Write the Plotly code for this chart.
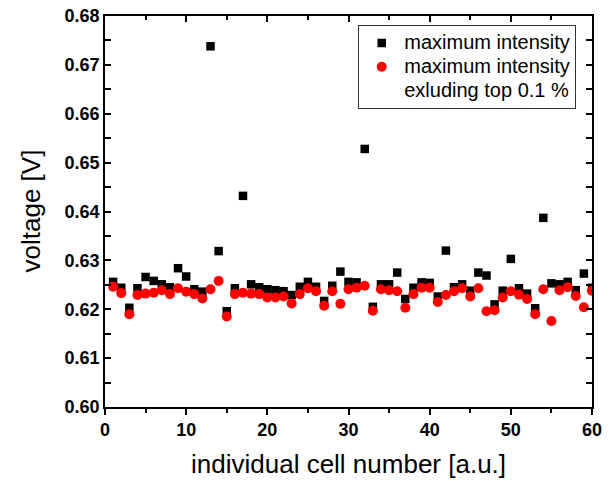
import plotly.graph_objects as go

cells = list(range(1, 61))
max_intensity = [0.6256, 0.6244, 0.6203, 0.6243, 0.6266, 0.6258, 0.6251, 0.6245, 0.6284, 0.6267,
                 0.6241, 0.6236, 0.6738, 0.6319, 0.6196, 0.6243, 0.6432, 0.6251, 0.6245, 0.6241,
                 0.6239, 0.6237, 0.6229, 0.6246, 0.6256, 0.6246, 0.6217, 0.6248, 0.6277, 0.6256,
                 0.6255, 0.6528, 0.6205, 0.6251, 0.6251, 0.6275, 0.6221, 0.6244, 0.6255, 0.6254,
                 0.6226, 0.6320, 0.6245, 0.6251, 0.6238, 0.6275, 0.6269, 0.6210, 0.6238, 0.6303,
                 0.6243, 0.6232, 0.6202, 0.6387, 0.6253, 0.6251, 0.6256, 0.6239, 0.6273, 0.6244]
max_excl_top = [0.6246, 0.6233, 0.6190, 0.6229, 0.6232, 0.6234, 0.6239, 0.6231, 0.6243, 0.6236,
                0.6231, 0.6222, 0.6241, 0.6258, 0.6185, 0.6231, 0.6234, 0.6232, 0.6231, 0.6224,
                0.6224, 0.6226, 0.6212, 0.6231, 0.6243, 0.6237, 0.6207, 0.6237, 0.6211, 0.6241,
                0.6244, 0.6248, 0.6197, 0.6241, 0.6239, 0.6237, 0.6203, 0.6231, 0.6244, 0.6244,
                0.6215, 0.6229, 0.6237, 0.6243, 0.6226, 0.6243, 0.6196, 0.6198, 0.6224, 0.6237,
                0.6230, 0.6221, 0.6190, 0.6241, 0.6176, 0.6239, 0.6245, 0.6227, 0.6204, 0.6238]

legend_names = ["maximum intensity", "maximum intensity", "exluding top 0.1 %"]
x_ticks = [0, 10, 20, 30, 40, 50, 60]
y_ticks = [0.60, 0.61, 0.62, 0.63, 0.64, 0.65, 0.66, 0.67, 0.68]
y_ticklabels = ["%.2f" % v for v in y_ticks]

FONT = "Liberation Sans, Arial, sans-serif"


def big(s):
    return '<span style="font-size:20px">%s</span>' % s


fig = go.Figure()
fig.add_trace(go.Scatter(x=cells, y=max_intensity, mode="markers", name=big(legend_names[0]),
                         marker=dict(symbol="square", size=8.5, color="black")))
fig.add_trace(go.Scatter(x=cells, y=max_excl_top, mode="markers", name=big(legend_names[1]),
                         marker=dict(symbol="circle", size=10, color="#ff0000")))
fig.add_trace(go.Scatter(x=[None], y=[None], mode="markers", name=big(legend_names[2]),
                         marker=dict(size=10, color="rgba(0,0,0,0)")))
# helper trace so the top (inward-ticked) axis is drawn
fig.add_trace(go.Scatter(x=[None], y=[None], xaxis="x2", mode="markers",
                         showlegend=False, hoverinfo="skip"))

fig.update_layout(
    width=615, height=481,
    margin=dict(l=105, r=23, t=16, b=74),
    plot_bgcolor="white", paper_bgcolor="white",
    font=dict(family=FONT, color="black"),
    showlegend=True,
    legend=dict(x=0.52, y=0.977, xanchor="left", yanchor="top",
                bordercolor="#333", borderwidth=1, bgcolor="white",
                font=dict(size=16, family=FONT), tracegroupgap=0,
                itemsizing="trace", itemwidth=35),
    annotations=[
        dict(text="individual cell number [a.u.]", xref="paper", yref="paper",
             x=0.5, y=0, yshift=-57, xanchor="center", yanchor="middle",
             showarrow=False, font=dict(size=26, family=FONT)),
        dict(text="voltage [V]", xref="paper", yref="paper",
             x=0, y=0.5, xshift=-75, xanchor="center", yanchor="middle",
             textangle=-90, showarrow=False, font=dict(size=26, family=FONT)),
    ],
    xaxis2=dict(
        overlaying="x", side="top", range=[0, 60], tickvals=x_ticks,
        showticklabels=False, showline=False, showgrid=False, zeroline=False,
        ticks="inside", ticklen=6, tickwidth=1.5, tickcolor="black",
        minor=dict(dtick=5, tick0=0, ticks="inside", ticklen=4, tickwidth=1.5, tickcolor="black"),
        automargin=False,
    ),
)
fig.layout.xaxis.update(
    range=[0, 60], tickvals=x_ticks, ticktext=[str(v) for v in x_ticks],
    showline=True, linecolor="black", linewidth=1.5, mirror=True,
    ticks="outside", ticklen=6, tickwidth=1.5, tickcolor="black",
    minor=dict(dtick=5, tick0=0, ticks="outside", ticklen=4, tickwidth=1.5, tickcolor="black"),
    showgrid=False, zeroline=False, automargin=False,
    tickfont=dict(size=18, family=FONT, weight="bold"),
)
fig.update_yaxes(
    range=[0.60, 0.68], tickvals=y_ticks, ticktext=y_ticklabels,
    showline=True, linecolor="black", linewidth=1.5, mirror="allticks",
    ticks="inside", ticklen=6, tickwidth=1.5, tickcolor="black",
    minor=dict(dtick=0.005, tick0=0.6, ticks="inside", ticklen=4, tickwidth=1.5, tickcolor="black"),
    showgrid=False, zeroline=False, automargin=False,
    tickfont=dict(size=18, family=FONT, weight="bold"),
)

fig.write_html("out.html", config={"displayModeBar": False},
               post_script="document.body.style.margin='0';")
